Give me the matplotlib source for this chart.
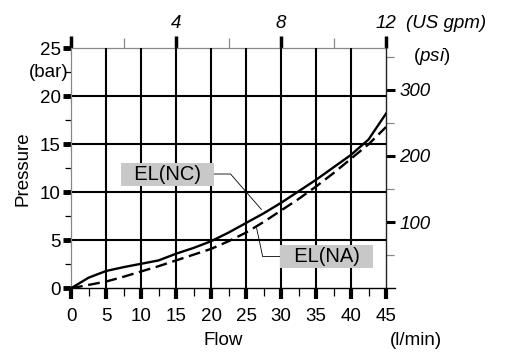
import numpy as np
import matplotlib.pyplot as plt
from matplotlib.ticker import MultipleLocator, FixedLocator

plt.rcParams['font.family'] = ['Liberation Sans', 'DejaVu Sans']
plt.rcParams['mathtext.fontset'] = 'custom'
plt.rcParams['mathtext.rm'] = 'Liberation Sans'
plt.rcParams['mathtext.it'] = 'Liberation Sans:italic'

# flow in l/min, pressure drop in bar
flow = [0, 2.5, 5, 7.5, 10, 12.5, 15, 17.5, 20, 22.5, 25, 27.5, 30, 32.5, 35, 37.5, 40, 42.5, 45]
el_nc = [0, 1.1, 1.8, 2.2, 2.55, 2.9, 3.6, 4.2, 4.9, 5.8, 6.8, 7.8, 8.9, 10.1, 11.3, 12.6, 13.9, 15.5, 18.2]
el_na = [0, 0.35, 0.7, 1.2, 1.75, 2.3, 2.9, 3.5, 4.1, 4.9, 5.8, 6.9, 8.1, 9.3, 10.6, 12.0, 13.5, 15.0, 16.8]

gpm_ticks = [0, 4, 8, 12]
gpm_labels = ["", "4", "8", "12"]
psi_ticks = [100, 200, 300]
bar_ticks = [0, 5, 10, 15, 20, 25]
bar_labels = ["0", "5", "10", "15", "20", "25"]

LPM_PER_GPM = 3.75
PSI_PER_BAR = 14.5
FS = 13.5

fig = plt.figure(figsize=(5.09, 3.52), dpi=100)
ax = fig.add_axes([0.1395, 0.181, 0.619, 0.682])

ax.set_xlim(0, 45)
ax.set_ylim(0, 25)

# grid
for gx in range(5, 45, 5):
    ax.axvline(gx, color="black", lw=1.5, zorder=1)
for gy in range(5, 25, 5):
    ax.axhline(gy, color="black", lw=1.5, zorder=1)

ax.plot(flow, el_nc, color="black", lw=1.7, zorder=3)
ax.plot(flow, el_na, color="black", lw=1.7, ls=(0, (5, 2.4)), zorder=3)

# spines
ax.spines["top"].set_visible(False)
ax.spines["right"].set_visible(False)
ax.spines["left"].set_color("#888888")
ax.spines["left"].set_linewidth(0.9)
ax.spines["bottom"].set_color("black")
ax.spines["bottom"].set_linewidth(1.0)

# bottom axis
ax.xaxis.set_major_locator(MultipleLocator(5))
ax.xaxis.set_minor_locator(MultipleLocator(2.5))
ax.tick_params(axis="x", which="major", length=8, width=3, pad=6, labelsize=FS, direction="out")
ax.tick_params(axis="x", which="minor", length=6, width=0.9, direction="out")

# left axis
ax.yaxis.set_major_locator(FixedLocator(bar_ticks))
ax.set_yticklabels(bar_labels)
ax.yaxis.set_minor_locator(MultipleLocator(2.5))
ax.tick_params(axis="y", which="major", length=6, width=3.5, pad=1.5, labelsize=FS)
ax.tick_params(axis="y", which="minor", length=4.5, width=0.9)
ax.text(-0.4, 22.5, "(bar)", ha="right", va="center", fontsize=FS)

ax.set_ylabel("Pressure", fontsize=FS, labelpad=6)
ax.text(21.8, -5.4, "Flow", ha="center", va="center", fontsize=FS)
ax.text(49.2, -5.4, "(l/min)", ha="center", va="center", fontsize=FS)

# extend bottom spine a little past 45
ax.spines["bottom"].set_bounds(0, 46.3)

# top axis (US gpm)
top = ax.secondary_xaxis("top", functions=(lambda x: x / LPM_PER_GPM, lambda g: g * LPM_PER_GPM))
top.xaxis.set_major_locator(FixedLocator(gpm_ticks))
top.set_xticklabels(gpm_labels, fontstyle="italic")
top.xaxis.set_minor_locator(FixedLocator([2, 6, 10]))
top.tick_params(which="major", length=8.5, width=2.5, pad=3, labelsize=FS)
top.tick_params(which="minor", length=7, width=0.9, color="#888888")
top.spines["top"].set_color("#888888")
top.spines["top"].set_linewidth(0.9)
ax.text(47.9, 27.6, "(US gpm)", ha="left", va="center", fontsize=FS, fontstyle="italic")

# right axis (psi)
right = ax.secondary_yaxis("right", functions=(lambda b: b * PSI_PER_BAR, lambda p: p / PSI_PER_BAR))
right.yaxis.set_major_locator(FixedLocator(psi_ticks))
right.set_yticklabels([str(p) for p in psi_ticks], fontstyle="italic")
right.yaxis.set_minor_locator(FixedLocator([50, 150, 250, 350]))
right.tick_params(which="major", length=6.5, width=2.2, pad=3, labelsize=FS)
right.tick_params(which="minor", length=5.5, width=0.9, color="#888888")
right.spines["right"].set_color("#222222")
right.spines["right"].set_linewidth(1.0)
ax.text(48.9, 350 / PSI_PER_BAR, r"($\mathit{psi}$)", ha="left", va="center", fontsize=FS)

# curve labels
box = dict(boxstyle="square,pad=0.1", fc="#c8c8c8", ec="none")
ax.annotate("  EL(NC)  ", xy=(27.2, 8.2), xytext=(13.8, 11.9), fontsize=14.5, ha="center", va="center",
            bbox=box, arrowprops=dict(arrowstyle="-", lw=0.6, color="black",
                                      connectionstyle="angle,angleA=0,angleB=131,rad=0",
                                      shrinkA=0, shrinkB=0), zorder=4)
ax.annotate("  EL(NA)  ", xy=(26.5, 6.3), xytext=(36.5, 3.3), fontsize=14.5, ha="center", va="center",
            bbox=box, arrowprops=dict(arrowstyle="-", lw=0.6, color="black",
                                      connectionstyle="angle,angleA=0,angleB=-78,rad=0",
                                      shrinkA=0, shrinkB=0), zorder=4)

fig.savefig("out.png", dpi=100)
